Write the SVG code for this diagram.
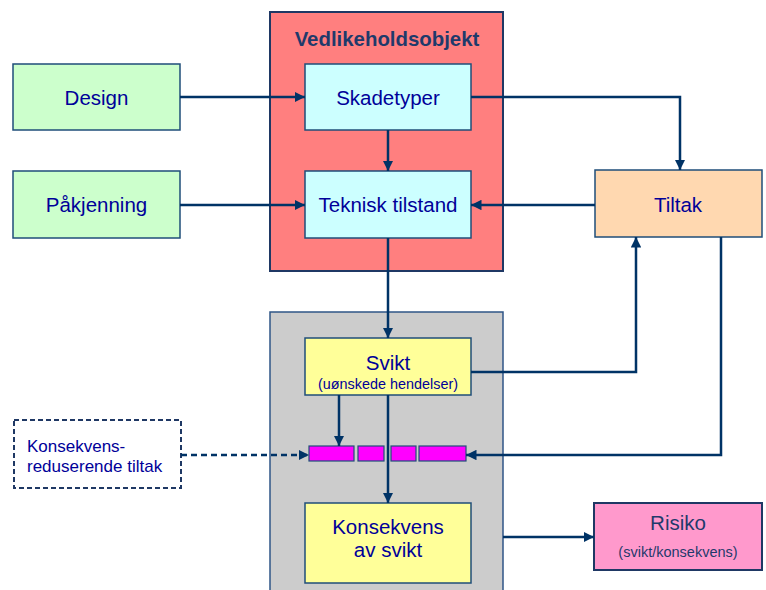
<svg xmlns="http://www.w3.org/2000/svg" width="766" height="590" viewBox="0 0 766 590">
<defs>
<marker id="arr" viewBox="0 0 10 10" refX="10" refY="5" markerWidth="4.2" markerHeight="4.2" orient="auto" markerUnits="strokeWidth"><path d="M0,0 L10,5 L0,10 z" fill="#003366"/></marker>
</defs>
<style>
text{font-family:"Liberation Sans",Arial,sans-serif;fill:#000099;text-anchor:middle}
.box{stroke:#1f4e79;stroke-width:1.5}
.c{fill:none;stroke:#003366;stroke-width:2.5;marker-end:url(#arr)}
.t18{font-size:20.5px}
.s13{font-size:14.4px}
</style>
<rect width="766" height="590" fill="#ffffff"/>
<g id="vedlikeholdsobjekt">
<rect x="270" y="12" width="233" height="259" fill="#ff7f7f" stroke="#1f3864" stroke-width="2"/>
<text x="387" y="46" style="font-size:20.4px;font-weight:bold;fill:#1f3a6b">Vedlikeholdsobjekt</text>
</g>
<g id="greycontainer">
<rect x="270" y="312" width="233" height="290" fill="#cccccc" stroke="#2f5587" stroke-width="1.5"/>
</g>
<g id="design"><rect class="box" x="13" y="64" width="167" height="66" fill="#ccffcc"/><text class="t18" x="96.5" y="105">Design</text></g>
<g id="pakjenning"><rect class="box" x="13" y="171" width="167" height="67" fill="#ccffcc"/><text class="t18" x="96.5" y="212">Påkjenning</text></g>
<g id="skadetyper"><rect class="box" x="305" y="64" width="166" height="66" fill="#ccffff"/><text class="t18" x="388" y="105">Skadetyper</text></g>
<g id="teknisk"><rect class="box" x="305" y="171" width="166" height="67" fill="#ccffff"/><text class="t18" x="388" y="212">Teknisk tilstand</text></g>
<g id="tiltak"><rect class="box" x="595" y="170" width="167" height="67" fill="#ffd8b0"/><text class="t18" x="678" y="212">Tiltak</text></g>
<g id="svikt"><rect class="box" x="305" y="338" width="166" height="57" fill="#ffff99"/><text class="t18" x="388" y="370">Svikt</text><text class="s13" x="388" y="389">(uønskede hendelser)</text></g>
<g id="bar">
<rect x="309" y="446" width="45" height="15" fill="#ff00ff" stroke="#1f4e79" stroke-width="1.2"/>
<rect x="358" y="446" width="26" height="15" fill="#ff00ff" stroke="#1f4e79" stroke-width="1.2"/>
<rect x="391" y="446" width="25" height="15" fill="#ff00ff" stroke="#1f4e79" stroke-width="1.2"/>
<rect x="419" y="446" width="47" height="15" fill="#ff00ff" stroke="#1f4e79" stroke-width="1.2"/>
</g>
<g id="konsekvens"><rect class="box" x="305" y="503" width="166" height="80" fill="#ffff99"/><text class="t18" x="388" y="534">Konsekvens</text><text class="t18" x="388" y="557">av svikt</text></g>
<g id="risiko"><rect x="594" y="503" width="168" height="67" fill="#ff99cc" stroke="#1f3864" stroke-width="2"/><text class="t18" x="678" y="530" style="fill:#1f3a6b">Risiko</text><text x="678" y="557" style="font-size:14.5px;fill:#1f3a6b">(svikt/konsekvens)</text></g>
<g id="konsred"><rect x="14" y="420" width="167" height="68" fill="#ffffff" stroke="#1f3864" stroke-width="2" stroke-dasharray="5,3"/><text x="27" y="452" style="font-size:17px;text-anchor:start">Konsekvens-</text><text x="27" y="472" style="font-size:17px;text-anchor:start">reduserende tiltak</text></g>
<g id="connectors">
<path class="c" d="M180,97 H305"/>
<path class="c" d="M180,205 H305"/>
<path class="c" d="M388,130 V171"/>
<path class="c" d="M471,97 H680 V170"/>
<path class="c" d="M595,205 H471"/>
<path class="c" d="M388,238 V338"/>
<path class="c" d="M471,372 H636 V237"/>
<path class="c" d="M721,237 V455 H466"/>
<path class="c" d="M339,395 V446"/>
<path class="c" d="M388,395 V503"/>
<path class="c" d="M181,455 H309" style="stroke-dasharray:6,4"/>
<path class="c" d="M503,537 H594"/>
</g>
</svg>
